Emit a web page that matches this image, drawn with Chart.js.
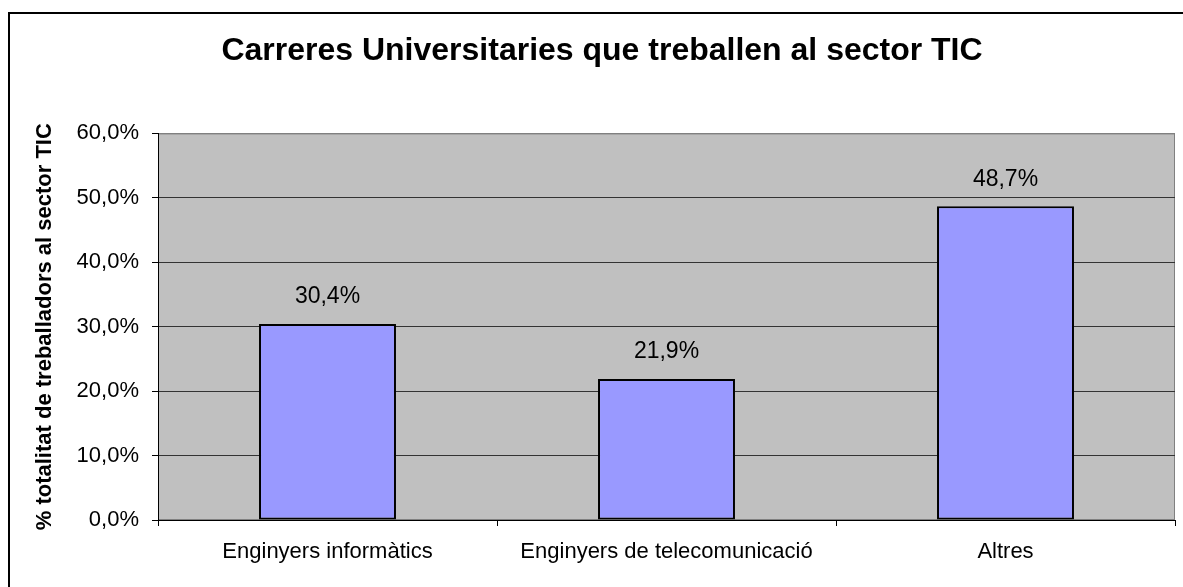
<!DOCTYPE html>
<html>
<head>
<meta charset="utf-8">
<title>Carreres Universitaries que treballen al sector TIC</title>
<script src="https://cdn.jsdelivr.net/npm/chart.js@4/dist/chart.umd.min.js"></script>
<style>
  body { margin: 0; background: #fff; }
  canvas { display: block; }
</style>
</head>
<body>
<canvas id="carreres-chart" width="1183" height="587"></canvas>
<script>
var carreres = ['Enginyers informàtics', 'Enginyers de telecomunicació', 'Altres'];
var percentatges = [30.4, 21.9, 48.7];
var ticksEix = [0, 10, 20, 30, 40, 50, 60];

function formatPercent(v) {
    return v.toFixed(1).replace('.', ',') + '%';
}

// plot background, outer frame and the gray top/right border of the plot
var fonsPlugin = {
    id: 'fons',
    beforeDraw: function(chart) {
        var ctx = chart.ctx;
        var a = chart.chartArea;
        ctx.save();
        ctx.fillStyle = '#ffffff';
        ctx.fillRect(0, 0, chart.width, chart.height);
        ctx.strokeStyle = '#000000';
        ctx.lineWidth = 2;
        ctx.strokeRect(9, 13, chart.width + 20, chart.height + 20);
        ctx.fillStyle = '#c0c0c0';
        ctx.fillRect(a.left, a.top, a.right - a.left, a.bottom - a.top);
        ctx.strokeStyle = '#808080';
        ctx.lineWidth = 1;
        ctx.strokeRect(a.left + 0.5, a.top + 0.5, a.right - a.left - 1, a.bottom - a.top - 1);
        ctx.restore();
    }
};

// value label above every bar
var etiquetesPlugin = {
    id: 'etiquetes',
    afterDatasetsDraw: function(chart) {
        var ctx = chart.ctx;
        var meta = chart.getDatasetMeta(0);
        ctx.save();
        ctx.font = '23px "Liberation Sans", Arial, sans-serif';
        ctx.fillStyle = '#000000';
        ctx.textAlign = 'center';
        ctx.textBaseline = 'middle';
        meta.data.forEach(function(bar, i) {
            ctx.fillText(formatPercent(percentatges[i]), bar.x, bar.y - 27);
        });
        ctx.restore();
    }
};

var ctx = document.getElementById('carreres-chart').getContext('2d');
var myChart = new Chart(ctx, {
    type: 'bar',
    data: {
        labels: carreres,
        datasets: [{
            data: percentatges,
            backgroundColor: '#9999ff',
            borderColor: '#000000',
            borderWidth: 2,
            borderSkipped: false,
            barPercentage: 0.404,
            categoryPercentage: 1
        }]
    },
    options: {
        responsive: false,
        animation: false,
        layout: { padding: { left: 29, right: 8, top: 0, bottom: 0 } },
        plugins: {
            legend: { display: false },
            tooltip: { enabled: false },
            title: {
                display: true,
                text: 'Carreres Universitaries que treballen al sector TIC',
                color: '#000000',
                font: { family: '"Liberation Sans", Arial, sans-serif', size: 32, weight: 'bold', lineHeight: 1.2 },
                padding: { top: 32, bottom: 63 }
            }
        },
        scales: {
            x: {
                grid: {
                    drawOnChartArea: false,
                    drawTicks: true,
                    tickLength: 6,
                    color: '#000000',
                    offset: true
                },
                border: { color: '#000000', width: 1 },
                ticks: {
                    color: '#000000',
                    padding: 13,
                    font: { family: '"Liberation Sans", Arial, sans-serif', size: 22 }
                },
                afterFit: function(scale) { scale.height = 67; }
            },
            y: {
                min: 0,
                max: 60,
                afterBuildTicks: function(scale) {
                    scale.ticks = ticksEix.map(function(v) { return { value: v }; });
                },
                grid: {
                    color: function(c) { return c.tick && c.tick.value === 60 ? '#808080' : '#333333'; },
                    tickColor: '#000000',
                    tickLength: 6,
                    lineWidth: 1
                },
                border: { color: '#000000', width: 1 },
                ticks: {
                    color: '#000000',
                    padding: 13,
                    font: { family: '"Liberation Sans", Arial, sans-serif', size: 22 },
                    callback: function(v) { return formatPercent(v); }
                },
                title: {
                    display: true,
                    text: '% totalitat de treballadors al sector TIC',
                    color: '#000000',
                    padding: { top: 3, bottom: 3 },
                    font: { family: '"Liberation Sans", Arial, sans-serif', size: 22, weight: 'bold', lineHeight: 1.2 }
                },
                afterFit: function(scale) { scale.width = 129; }
            }
        }
    },
    plugins: [fonsPlugin, etiquetesPlugin]
});
</script>
</body>
</html>
